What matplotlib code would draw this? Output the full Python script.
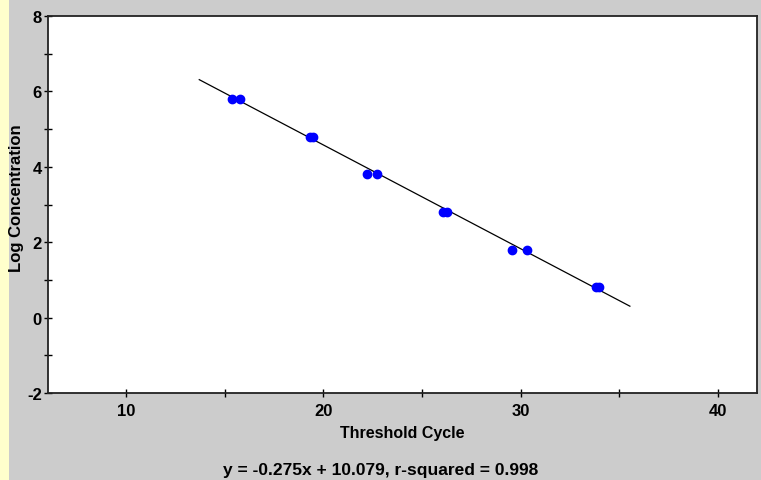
import matplotlib
matplotlib.use('Agg')

import matplotlib.pyplot as plt
import numpy as np

plt.rcParams['font.family'] = ['Liberation Sans', 'DejaVu Sans']
plt.rcParams['font.weight'] = 'bold'
plt.rcParams['axes.unicode_minus'] = False

# standards: threshold cycle (two replicates each) vs log concentration
ct = [15.35, 15.75, 19.3, 19.45, 22.2, 22.7, 26.05, 26.25, 29.55, 30.35, 33.85, 34.0]
log_conc = [5.8, 5.8, 4.8, 4.8, 3.8, 3.8, 2.8, 2.8, 1.8, 1.8, 0.8, 0.8]

slope = -0.275
intercept = 10.079
r_squared = 0.998
fit_range = [13.7, 35.55]

fig = plt.figure(figsize=(7.61, 4.81), dpi=100)
fig.patch.set_facecolor('#cccccc')
# yellow strip on the left edge
fig.patches.append(plt.Rectangle((0, 0), 9 / 761, 1, transform=fig.transFigure,
                                 facecolor='#ffffcc', edgecolor='none', zorder=-1))

ax = fig.add_axes([47.5 / 761, 1 - 394 / 481, 709.5 / 761, 377 / 481])
ax.set_facecolor('white')

fx = np.array(fit_range)
ax.plot(fx, slope * fx + intercept, color='black', lw=0.9, zorder=2)
ax.plot(ct, log_conc, linestyle='none', marker='o', markersize=6,
        color='#0000ff', markeredgecolor='#0000ff', zorder=3)

ax.set_xlim(6, 42)
ax.set_ylim(-2, 8)
ax.set_xticks([10, 20, 30, 40])
ax.set_xticks([15, 25, 35], minor=True)
ax.set_yticks([-2, 0, 2, 4, 6, 8])
ax.set_yticks([-1, 1, 3, 5, 7], minor=True)
ax.tick_params(axis='x', which='both', direction='inout', length=6, width=1,
               labelsize=12, pad=4)
ax.tick_params(axis='y', which='both', direction='inout', length=6, width=1,
               labelsize=12, pad=1)
for s in ax.spines.values():
    s.set_linewidth(1.3)
    s.set_color('#222222')

ax.set_xlabel('Threshold Cycle', fontsize=11.5, fontweight='bold', labelpad=5)
ax.set_ylabel('Log Concentration', fontsize=12, fontweight='bold')
ax.yaxis.set_label_coords(-23 / 709.5, 0.52)

fig.text(0.5, 1 - 471 / 481,
         'y = {0:.3f}x + {1:.3f}, r-squared = {2:.3f}'.format(slope, intercept, r_squared),
         ha='center', va='center', fontsize=12.5, fontweight='bold')

fig.savefig('out.png', dpi=100, facecolor=fig.get_facecolor())
